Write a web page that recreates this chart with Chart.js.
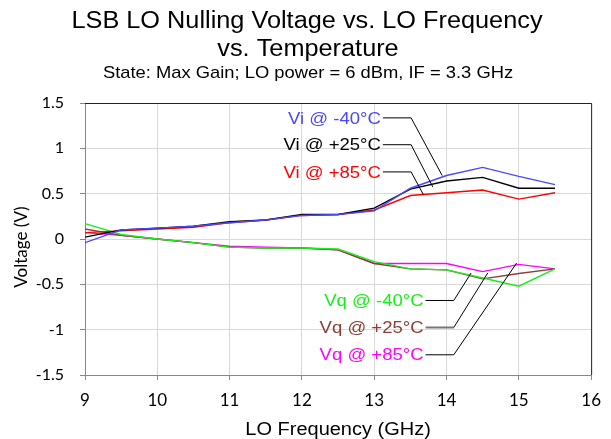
<!DOCTYPE html>
<html>
<head>
<meta charset="utf-8">
<script src="https://cdn.jsdelivr.net/npm/chart.js@4/dist/chart.umd.min.js"></script>
<style>
html,body{margin:0;padding:0;background:#fff;}
#wrap{width:611px;height:439px;position:relative;}
</style>
</head>
<body>
<div id="wrap"><canvas id="c" width="611" height="439"></canvas></div>
<script>
// ---- data ----
const freqGHz = [9, 9.5, 10, 10.5, 11, 11.5, 12, 12.5, 13, 13.5, 14, 14.5, 15, 15.5];
const viM40 = [-0.04, 0.10, 0.12, 0.14, 0.18, 0.21, 0.26, 0.27, 0.31, 0.56, 0.70, 0.79, 0.69, 0.60];
const viP25 = [0.02, 0.10, 0.12, 0.14, 0.19, 0.21, 0.27, 0.27, 0.34, 0.55, 0.64, 0.68, 0.56, 0.56];
const viP85 = [0.07, 0.09, 0.11, 0.13, 0.18, 0.21, 0.26, 0.27, 0.32, 0.48, 0.51, 0.54, 0.44, 0.51];
const vqM40 = [0.17, 0.05, 0.00, -0.04, -0.09, -0.10, -0.10, -0.11, -0.25, -0.33, -0.34, -0.43, -0.52, -0.33];
const vqP25 = [0.11, 0.04, 0.00, -0.04, -0.09, -0.10, -0.10, -0.12, -0.27, -0.33, -0.34, -0.44, -0.38, -0.33];
const vqP85 = [0.07, 0.04, 0.00, -0.04, -0.08, -0.09, -0.10, -0.12, -0.27, -0.27, -0.27, -0.36, -0.28, -0.33];
const seriesNames = ['Vi @ -40°C', 'Vi @ +25°C', 'Vi @ +85°C', 'Vq @ -40°C', 'Vq @ +25°C', 'Vq @ +85°C'];
const xTicks = [9, 10, 11, 12, 13, 14, 15, 16];
const yTicks = [-1.5, -1, -0.5, 0, 0.5, 1, 1.5];
const titleLines = ['LSB LO Nulling Voltage vs. LO Frequency', 'vs. Temperature'];
const subtitleText = 'State: Max Gain; LO power = 6 dBm, IF = 3.3 GHz';
const xTitle = 'LO Frequency (GHz)';
const yTitle = 'Voltage (V)';

// ---- styling ----
const colors = ['#4848ff', '#000000', '#ff0000', '#16f016', '#8c3d37', '#ff00ff'];
const allSeries = [viM40, viP25, viP85, vqM40, vqP25, vqP85];
const ARIAL = '"Liberation Sans", Arial, sans-serif';

// callout positions in data units: text y, line start x, elbow x, end point
const callouts = [
  {ty: 1.336, x0: 13.12, x1: 13.51, ex: 13.94, ey: 0.70},
  {ty: 1.04,  x0: 13.12, x1: 13.51, ex: 13.81, ey: 0.574},
  {ty: 0.74,  x0: 13.12, x1: 13.51, ex: 13.68, ey: 0.489},
  {ty: -0.678, x0: 13.71, x1: 14.10, ex: 14.34, ey: -0.375},
  {ty: -0.976, x0: 13.71, x1: 14.10, ex: 14.57, ey: -0.375},
  {ty: -1.277, x0: 13.71, x1: 14.10, ex: 14.97, ey: -0.265}
];

const datasets = allSeries.map((vals, i) => ({
  label: seriesNames[i],
  data: freqGHz.map((f, j) => ({x: f, y: vals[j]})),
  borderColor: colors[i],
  backgroundColor: colors[i],
  borderWidth: 1.4,
  pointRadius: 0,
  tension: 0,
  fill: false
}));

function stretchText(ctx, txt, x, y, sx, align) {
  ctx.save();
  ctx.translate(x, y);
  ctx.scale(sx, 1);
  ctx.textAlign = align;
  ctx.fillText(txt, 0, 0);
  ctx.restore();
}

const decor = {
  id: 'decor',
  afterDatasetsDraw(chart) {
    const ctx = chart.ctx, xs = chart.scales.x, ys = chart.scales.y, a = chart.chartArea;
    ctx.save();
    // frame
    ctx.lineWidth = 1;
    ctx.strokeStyle = '#222';
    ctx.beginPath();
    ctx.moveTo(a.left, a.top + 0.5); ctx.lineTo(a.right + 0.5, a.top + 0.5); ctx.lineTo(a.right + 0.5, a.bottom);
    ctx.stroke();
    // callouts
    ctx.font = '17px ' + ARIAL;
    ctx.textBaseline = 'middle';
    callouts.forEach((c, i) => {
      const y = ys.getPixelForValue(c.ty);
      const x0 = xs.getPixelForValue(c.x0);
      const x1 = xs.getPixelForValue(c.x1);
      ctx.fillStyle = colors[i];
      stretchText(ctx, seriesNames[i], x0 - 2, y + 1, 1.09, 'right');
      ctx.strokeStyle = i === 4 ? '#777' : '#000';
      ctx.lineWidth = i === 4 ? 2 : 1;
      ctx.beginPath();
      ctx.moveTo(x0, y); ctx.lineTo(x1, y);
      ctx.stroke();
      ctx.strokeStyle = '#000';
      ctx.lineWidth = 1;
      ctx.beginPath();
      ctx.moveTo(x1, y);
      ctx.lineTo(xs.getPixelForValue(c.ex), ys.getPixelForValue(c.ey));
      ctx.stroke();
    });
    // titles
    ctx.fillStyle = '#000';
    ctx.font = '23px ' + ARIAL;
    stretchText(ctx, titleLines[0], 307, 22, 1.10, 'center');
    stretchText(ctx, titleLines[1], 308, 50, 1.10, 'center');
    ctx.font = '17px ' + ARIAL;
    stretchText(ctx, subtitleText, 308, 73, 1.08, 'center');
    // x axis title
    ctx.font = '18px ' + ARIAL;
    stretchText(ctx, xTitle, (a.left + a.right) / 2, 430, 1.11, 'center');
    // y axis title
    ctx.font = '17px Lato, "Open Sans", sans-serif';
    ctx.textAlign = 'center';
    ctx.translate(22, 247);
    ctx.rotate(-Math.PI / 2);
    ctx.fillText(yTitle, 0, 0);
    ctx.restore();
  }
};

new Chart(document.getElementById('c'), {
  type: 'line',
  data: {datasets},
  options: {
    responsive: false,
    animation: false,
    devicePixelRatio: 1,
    layout: {padding: {left: 0, right: 19, top: 103, bottom: 0}},
    plugins: {
      legend: {display: false},
      tooltip: {enabled: false},
      title: {display: false},
      subtitle: {display: false}
    },
    scales: {
      x: {
        type: 'linear',
        min: 9, max: 16,
        afterBuildTicks: s => { s.ticks = xTicks.map(v => ({value: v})); },
        afterFit: s => { s.height = 64; },
        grid: {color: '#d9d9d9', lineWidth: 1, tickColor: '#888', tickLength: 5, drawTicks: true},
        border: {color: '#888', width: 1},
        ticks: {color: '#000', font: {family: 'Lato, "Open Sans", sans-serif', size: 17}, padding: 10, maxRotation: 0},
        title: {display: false}
      },
      y: {
        type: 'linear',
        min: -1.5, max: 1.5,
        afterBuildTicks: s => { s.ticks = yTicks.map(v => ({value: v})); },
        afterFit: s => { s.width = 85; },
        grid: {color: '#d9d9d9', lineWidth: 1, tickColor: '#888', tickLength: 5, drawTicks: true},
        border: {color: '#888', width: 1},
        ticks: {color: '#000', font: {family: 'Lato, "Open Sans", sans-serif', size: 16}, padding: 16,
          callback: v => String(v)}
      }
    }
  },
  plugins: [decor]
});
</script>
</body>
</html>
